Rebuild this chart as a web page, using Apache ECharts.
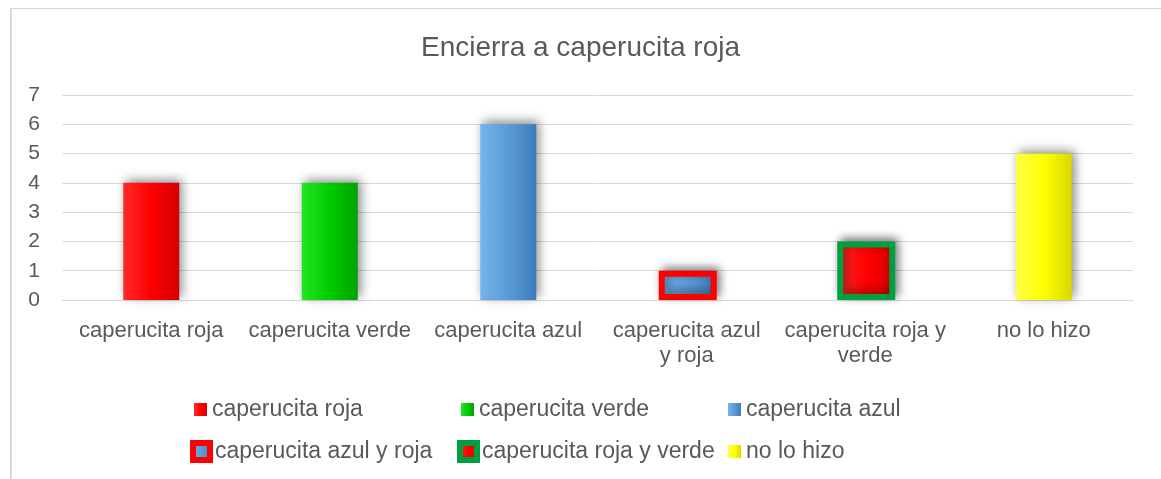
<!DOCTYPE html>
<html>
<head>
<meta charset="utf-8">
<script src="https://cdn.jsdelivr.net/npm/echarts@6/dist/echarts.min.js"></script>
<style>
  html, body { margin: 0; padding: 0; background: #fff; }
  #wrap { position: relative; width: 1161px; height: 479px; overflow: hidden; }
  #frame { position: absolute; left: 10px; top: 8px; width: 1200px; height: 600px;
           border-top: 1px solid #d9d9d9; border-left: 2px solid #d9d9d9; }
  #chart { position: absolute; left: 0; top: 0; width: 1161px; height: 479px; }
</style>
</head>
<body>
<div id="wrap">
  <div id="frame"></div>
  <div id="chart"></div>
</div>
<script>
// datos
const categories = ['caperucita roja', 'caperucita verde', 'caperucita azul',
  'caperucita azul y roja', 'caperucita roja y verde', 'no lo hizo'];
const axisLabels = ['caperucita roja', 'caperucita verde', 'caperucita azul',
  'caperucita azul\ny roja', 'caperucita roja y\nverde', 'no lo hizo'];
const values = [4, 4, 6, 1, 2, 5];
const yTicks = [0, 1, 2, 3, 4, 5, 6, 7];

// colores: relleno [claro, base, oscuro] y borde
const fills = [
  ['#ff2a2a', '#ff0000', '#d40000'],
  ['#22e522', '#00cc00', '#00a300'],
  ['#74b3ec', '#5b9bd5', '#3e7cbc'],
  ['#74b3ec', '#5b9bd5', '#3e7cbc'],
  ['#ff2a2a', '#ff0000', '#d40000'],
  ['#ffff4a', '#ffff00', '#d9d900']
];
const borders = [null, null, null, '#ff0000', '#00a040', null];

const grad = (c) => new echarts.graphic.LinearGradient(0, 0, 1, 0, [
  { offset: 0, color: c[0] },
  { offset: 0.5, color: c[1] },
  { offset: 1, color: c[2] }
]);

const series = categories.map((name, i) => {
  const data = values.map((v, j) => (j === i ? v : '-'));
  const item = {
    color: grad(fills[i]),
    shadowColor: 'rgba(0,0,0,0.45)',
    shadowBlur: 10,
    shadowOffsetX: 3,
    shadowOffsetY: -3
  };
  if (borders[i]) {
    item.borderColor = borders[i];
    item.borderWidth = 6;
  }
  return {
    name: name,
    type: 'bar',
    data: data,
    barWidth: borders[i] ? 58 : 56,
    barGap: '-100%',
    itemStyle: item
  };
});

// leyenda: una por elemento para fijar la posición
const legendPos = [
  [194, 398], [461, 398], [728, 398],
  [190, 440], [457, 440], [728, 440]
];
const legends = categories.map((name, i) => ({
  data: [{
    name: name,
    itemStyle: borders[i]
      ? { borderWidth: 6, shadowBlur: 0 }
      : { borderWidth: 0, shadowBlur: 0 }
  }],
  left: legendPos[i][0],
  top: legendPos[i][1],
  padding: 0,
  icon: 'rect',
  itemWidth: borders[i] ? 17 : 13,
  itemHeight: borders[i] ? 17 : 13,
  itemGap: 4,
  textStyle: { color: '#595959', fontSize: 23 }
}));

const chart = echarts.init(document.getElementById('chart'));
chart.setOption({
  animation: false,
  textStyle: { fontFamily: 'Liberation Sans, Arial, sans-serif' },
  title: {
    text: 'Encierra a caperucita roja',
    left: 'center',
    top: 29,
    textStyle: { color: '#595959', fontSize: 28, fontWeight: 'normal' }
  },
  legend: legends,
  grid: { left: 62, right: 28, top: 95, bottom: 179 },
  xAxis: {
    type: 'category',
    data: categories,
    axisLine: { lineStyle: { color: '#d9d9d9', width: 1 } },
    axisTick: { show: false },
    axisLabel: {
      color: '#595959',
      fontSize: 22,
      margin: 18,
      lineHeight: 25,
      interval: 0,
      formatter: (v, idx) => axisLabels[idx]
    }
  },
  yAxis: {
    type: 'value',
    min: yTicks[0],
    max: yTicks[yTicks.length - 1],
    interval: 1,
    axisLine: { show: false },
    axisTick: { show: false },
    splitLine: { lineStyle: { color: '#d9d9d9', width: 1 } },
    axisLabel: { color: '#595959', fontSize: 21, margin: 22 }
  },
  series: series
});
</script>
</body>
</html>
